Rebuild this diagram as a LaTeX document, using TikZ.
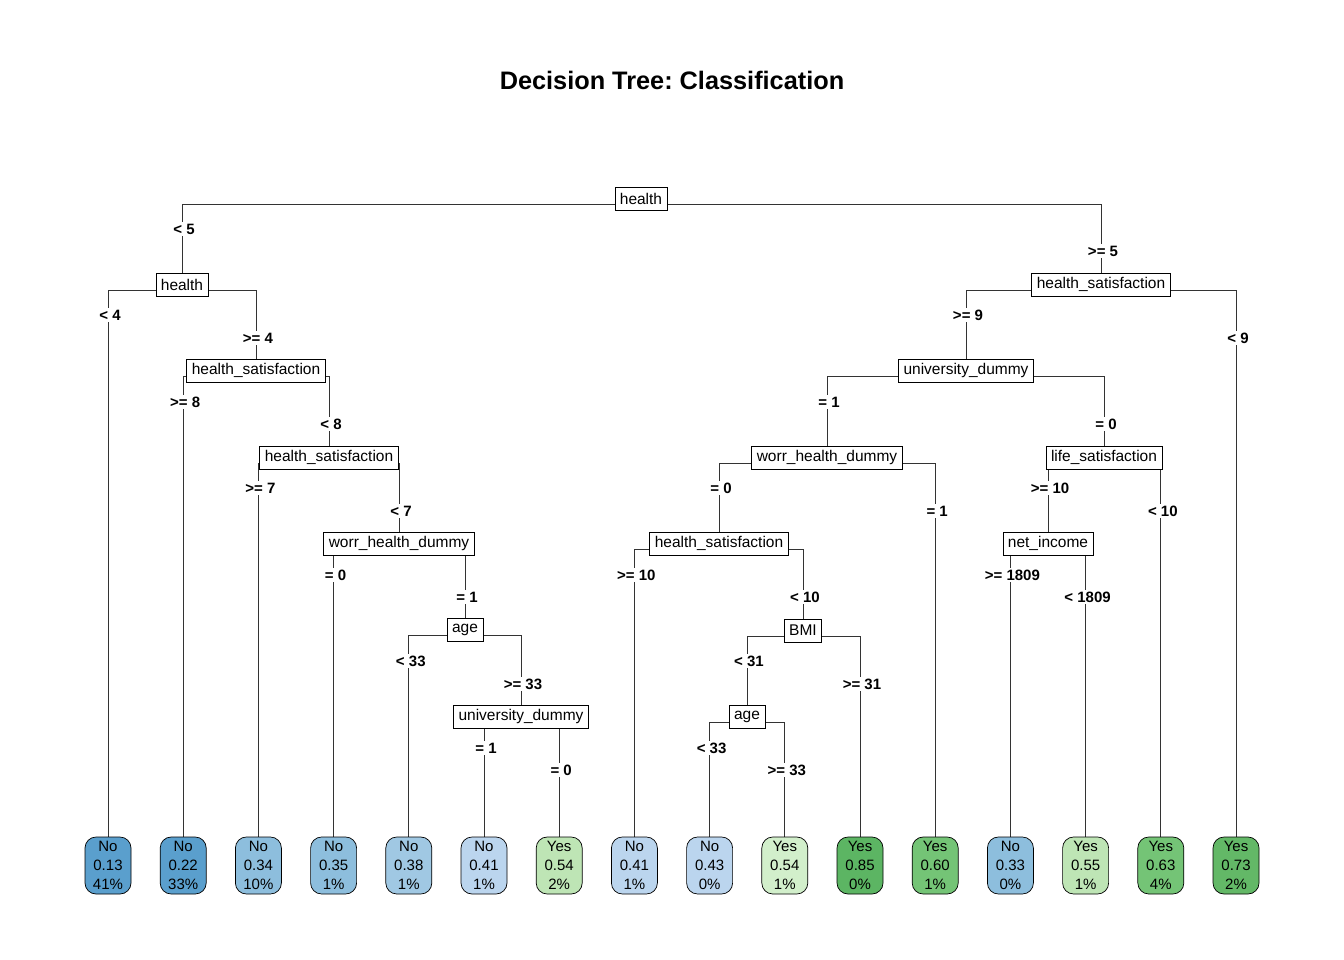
\documentclass[tikz,border=0pt]{standalone}
\usepackage{fontspec}
\setmainfont{Liberation Sans}
\frenchspacing
\usetikzlibrary{backgrounds}
\definecolor{bA}{HTML}{5A9FCD}
\definecolor{bB}{HTML}{8DBEDD}
\definecolor{bC}{HTML}{A0C8E3}
\definecolor{bD}{HTML}{BBD5EE}
\definecolor{gA}{HTML}{BEE5B5}
\definecolor{gB}{HTML}{D2EFCB}
\definecolor{gC}{HTML}{5CB563}
\definecolor{gD}{HTML}{74C476}
\definecolor{gE}{HTML}{63B867}
\definecolor{edgecol}{HTML}{333333}
\newcommand\ed[4]{%
  \begin{pgfonlayer}{background}
    \draw[edgeline] ([yshift=-5.5pt]#1.center) -| (#2.north);
  \end{pgfonlayer}
  \node[lbl] at ([xshift=2pt]#2.north |- 0,#4) {#3};}
\begin{document}
\begin{tikzpicture}[x=1pt,y=-1pt,
  split/.style={draw=black, fill=white, line width=0.7pt, inner xsep=5pt, inner ysep=0pt,
    minimum height=23pt, font=\fontsize{15.5}{18}\selectfont},
  leaf/.style={draw=black, line width=0.7pt, rounded corners=11pt, minimum width=46pt,
    minimum height=57pt, inner sep=0pt, align=center, font=\fontsize{15}{19}\selectfont},
  lbl/.style={fill=white, inner sep=1.5pt, font=\bfseries\fontsize{15}{18}\selectfont},
  edgeline/.style={line width=0.7pt, draw=edgecol}]
\begin{pgfonlayer}{background}
\fill[white] (0,0) rectangle (1344,960);
\end{pgfonlayer}
\useasboundingbox (0,0) rectangle (1344,960);
\node[font=\bfseries\fontsize{25.3}{30}\selectfont] (title) at (672,80) {Decision Tree: Classification};
% split nodes
\node[split] (r) at (641,198.5) {health};
\node[split] (a) at (182,284.5) {health};
\node[split] (b) at (1101,284.5) {health\_satisfaction};
\node[split] (c) at (256,370.5) {health\_satisfaction};
\node[split] (d) at (329,457.5) {health\_satisfaction};
\node[split] (e) at (399,543.5) {worr\_health\_dummy};
\node[split] (f) at (465,629.5) {age};
\node[split] (g) at (521,716.5) {university\_dummy};
\node[split] (h) at (966,370.5) {university\_dummy};
\node[split] (i) at (827,457.5) {worr\_health\_dummy};
\node[split] (j) at (1104,457.5) {life\_satisfaction};
\node[split] (k) at (719,543.5) {health\_satisfaction};
\node[split] (m) at (803,630.5) {BMI};
\node[split] (n) at (747,716.5) {age};
\node[split] (o) at (1048,543.5) {net\_income};
% leaves
\node[leaf, fill=bA] (l1) at (108,865.5) {No\\0.13\\41\%};
\node[leaf, fill=bA] (l2) at (183.2,865.5) {No\\0.22\\33\%};
\node[leaf, fill=bB] (l3) at (258.4,865.5) {No\\0.34\\10\%};
\node[leaf, fill=bB] (l4) at (333.6,865.5) {No\\0.35\\1\%};
\node[leaf, fill=bC] (l5) at (408.8,865.5) {No\\0.38\\1\%};
\node[leaf, fill=bD] (l6) at (484,865.5) {No\\0.41\\1\%};
\node[leaf, fill=gA] (l7) at (559.2,865.5) {Yes\\0.54\\2\%};
\node[leaf, fill=bD] (l8) at (634.4,865.5) {No\\0.41\\1\%};
\node[leaf, fill=bD] (l9) at (709.6,865.5) {No\\0.43\\0\%};
\node[leaf, fill=gB] (l10) at (784.8,865.5) {Yes\\0.54\\1\%};
\node[leaf, fill=gC] (l11) at (860,865.5) {Yes\\0.85\\0\%};
\node[leaf, fill=gD] (l12) at (935.2,865.5) {Yes\\0.60\\1\%};
\node[leaf, fill=bB] (l13) at (1010.4,865.5) {No\\0.33\\0\%};
\node[leaf, fill=gA] (l14) at (1085.6,865.5) {Yes\\0.55\\1\%};
\node[leaf, fill=gD] (l15) at (1160.8,865.5) {Yes\\0.63\\4\%};
\node[leaf, fill=gE] (l16) at (1236,865.5) {Yes\\0.73\\2\%};
% edges
\ed{r}{a}{< 5}{229}
\ed{r}{b}{>= 5}{251}
\ed{a}{l1}{< 4}{315}
\ed{a}{c}{>= 4}{338}
\ed{c}{l2}{>= 8}{402}
\ed{c}{d}{< 8}{424}
\ed{d}{l3}{>= 7}{488}
\ed{d}{e}{< 7}{511}
\ed{e}{l4}{= 0}{575}
\ed{e}{f}{= 1}{597}
\ed{f}{l5}{< 33}{661}
\ed{f}{g}{>= 33}{684}
\ed{g}{l6}{= 1}{748}
\ed{g}{l7}{= 0}{770}
\ed{b}{h}{>= 9}{315}
\ed{b}{l16}{< 9}{338}
\ed{h}{i}{= 1}{402}
\ed{h}{j}{= 0}{424}
\ed{i}{k}{= 0}{488}
\ed{i}{l12}{= 1}{511}
\ed{k}{l8}{>= 10}{575}
\ed{k}{m}{< 10}{597}
\ed{m}{n}{< 31}{661}
\ed{m}{l11}{>= 31}{684}
\ed{n}{l9}{< 33}{748}
\ed{n}{l10}{>= 33}{770}
\ed{j}{o}{>= 10}{488}
\ed{j}{l15}{< 10}{511}
\ed{o}{l13}{>= 1809}{575}
\ed{o}{l14}{< 1809}{597}
\end{tikzpicture}
\end{document}
